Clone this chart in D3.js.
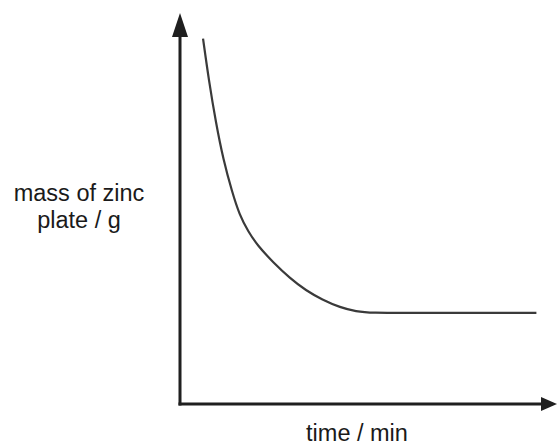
<!DOCTYPE html>
<html>
<head>
<meta charset="utf-8">
<script src="https://cdn.jsdelivr.net/npm/d3@7"></script>
<style>
html,body{margin:0;padding:0;background:#fff;}
svg{display:block;}
text{font-family:"Liberation Sans",Arial,sans-serif;fill:#1a1a1a;}
</style>
</head>
<body>
<svg id="chart" width="558" height="448"></svg>
<script>
// data (arbitrary units; the chart has no tick labels)
const timeValues = [0.64, 0.8, 1.0, 1.2, 1.45, 1.65, 1.9, 2.15, 2.6, 3.05, 3.5, 3.95, 4.45, 4.9, 5.3, 6.5, 9.9];
const massValues = [10.15, 9.0, 7.8, 6.8, 5.88, 5.26, 4.78, 4.41, 3.92, 3.5, 3.15, 2.9, 2.68, 2.57, 2.53, 2.53, 2.53];
const yLabelLines = ["mass of zinc", "plate / g"];
const xLabel = "time / min";

const svg = d3.select("#chart");
const ox = 180, oy = 404;

const x = d3.scaleLinear().domain([0, 10]).range([ox, ox + 360]);
const y = d3.scaleLinear().domain([0, 10]).range([oy, oy - 360]);

const axisColor = "#1f1f1f";

// y axis
svg.append("line")
  .attr("x1", x(0)).attr("y1", y(0) + 1.5)
  .attr("x2", x(0)).attr("y2", 30)
  .attr("stroke", axisColor).attr("stroke-width", 3);
svg.append("path")
  .attr("d", `M${x(0)},13 L${x(0) - 8},37 L${x(0) + 8},37 Z`)
  .attr("fill", axisColor);

// x axis
svg.append("line")
  .attr("x1", x(0) - 1.5).attr("y1", y(0))
  .attr("x2", 548).attr("y2", y(0))
  .attr("stroke", axisColor).attr("stroke-width", 3);
svg.append("path")
  .attr("d", `M557,${y(0)} L541,${y(0) - 7} L541,${y(0) + 7} Z`)
  .attr("fill", axisColor);

// curve
const pts = timeValues.map((t, i) => [t, massValues[i]]);
const line = d3.line()
  .x(d => x(d[0]))
  .y(d => y(d[1]))
  .curve(d3.curveBasis);
svg.append("path")
  .datum(pts)
  .attr("d", line)
  .attr("fill", "none")
  .attr("stroke", "#3a3a3a")
  .attr("stroke-width", 2.2);

// y label
const yl = svg.append("text")
  .attr("x", 79).attr("y", 201)
  .attr("text-anchor", "middle")
  .style("font-size", "23.5px");
yLabelLines.forEach((s, i) => {
  yl.append("tspan").attr("x", 79).attr("dy", i === 0 ? 0 : 27).text(s);
});

// x label
svg.append("text")
  .attr("x", 357).attr("y", 441)
  .attr("text-anchor", "middle")
  .style("font-size", "23.5px")
  .text(xLabel);
</script>
</body>
</html>
